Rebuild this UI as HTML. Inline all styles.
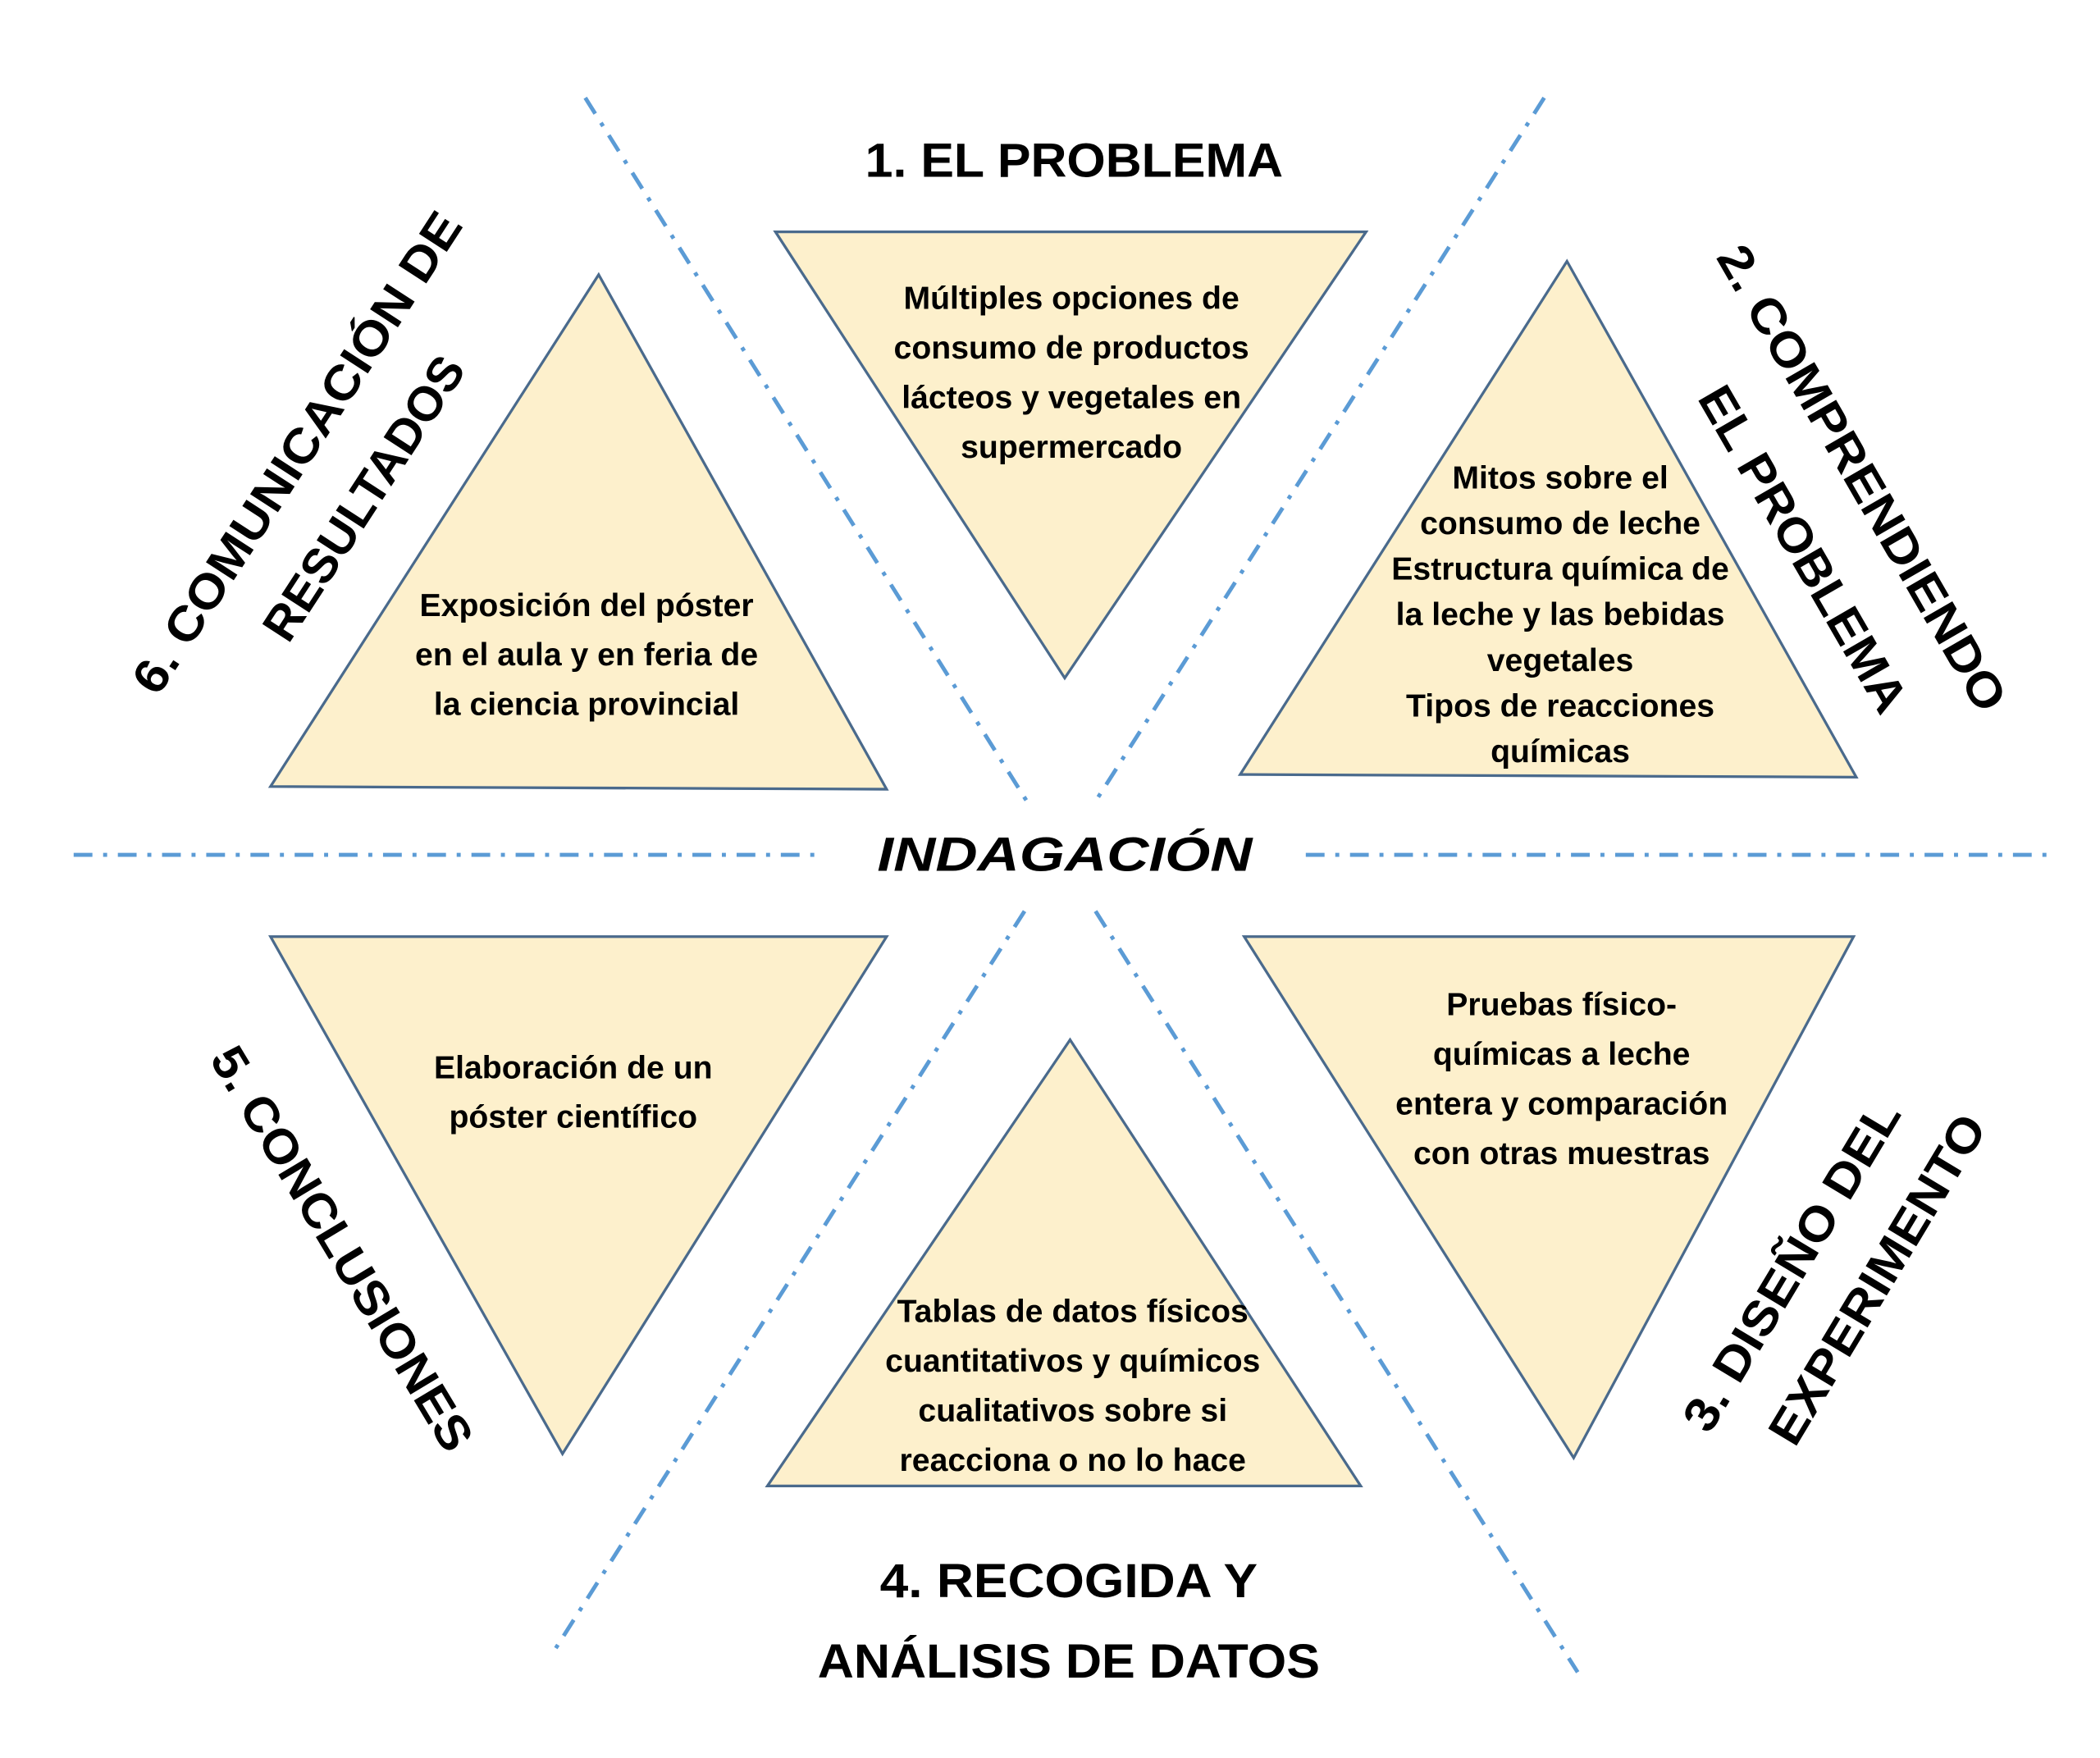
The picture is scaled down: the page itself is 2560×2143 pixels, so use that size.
<!DOCTYPE html>
<html><head><meta charset="utf-8"><style>
html,body{margin:0;padding:0;background:#fff;}
svg{display:block;}
text{font-family:"Liberation Sans",sans-serif;font-weight:bold;fill:#000;}
.t{font-size:24px;text-anchor:middle;dominant-baseline:central;}
.h{font-size:36px;text-anchor:middle;dominant-baseline:central;}
</style></head><body>
<svg width="2560" height="2143" viewBox="0 0 1568 1312" preserveAspectRatio="none" xmlns="http://www.w3.org/2000/svg">
<g stroke="#5b9bd5" stroke-width="3" stroke-dasharray="14 8 3 8" fill="none">
<line x1="55" y1="638" x2="612" y2="638"/>
<line x1="975" y1="638" x2="1530" y2="638"/>
<line x1="437" y1="73" x2="768" y2="600"/>
<line x1="1153" y1="73" x2="818" y2="598"/>
<line x1="765" y1="680" x2="415" y2="1230"/>
<line x1="818" y1="680" x2="1178" y2="1248"/>
</g>
<g fill="#fdf0cc" stroke="#4a6a8c" stroke-width="2">
<polygon points="579,173 1020,173 795,506"/>
<polygon points="1170,195 1386,580 926,578"/>
<polygon points="447,205 662,589 202,587"/>
<polygon points="202,699 662,699 420,1085"/>
<polygon points="799,776 1016,1109 573,1109"/>
<polygon points="929,699 1384,699 1175,1088"/>
</g>
<text class="t" x="800" y="223">Múltiples opciones de</text>
<text class="t" x="800" y="260">consumo de productos</text>
<text class="t" x="800" y="297">lácteos y vegetales en</text>
<text class="t" x="800" y="334">supermercado</text>

<text class="t" x="1165" y="357">Mitos sobre el</text>
<text class="t" x="1165" y="391">consumo de leche</text>
<text class="t" x="1165" y="425">Estructura química de</text>
<text class="t" x="1165" y="459">la leche y las bebidas</text>
<text class="t" x="1165" y="493">vegetales</text>
<text class="t" x="1165" y="527">Tipos de reacciones</text>
<text class="t" x="1165" y="561">químicas</text>

<text class="t" x="438" y="452">Exposición del póster</text>
<text class="t" x="438" y="489">en el aula y en feria de</text>
<text class="t" x="438" y="526">la ciencia provincial</text>

<text class="t" x="428" y="797">Elaboración de un</text>
<text class="t" x="428" y="834">póster científico</text>

<text class="t" x="801" y="979">Tablas de datos físicos</text>
<text class="t" x="801" y="1016">cuantitativos y químicos</text>
<text class="t" x="801" y="1053">cualitativos sobre si</text>
<text class="t" x="801" y="1090">reacciona o no lo hace</text>

<text class="t" x="1166" y="750">Pruebas físico-</text>
<text class="t" x="1166" y="787">químicas a leche</text>
<text class="t" x="1166" y="824">entera y comparación</text>
<text class="t" x="1166" y="861">con otras muestras</text>

<text class="h" x="802" y="120" textLength="312" lengthAdjust="spacingAndGlyphs">1. EL PROBLEMA</text>
<text class="h" x="795" y="638" font-size="42" font-style="italic" textLength="280" lengthAdjust="spacingAndGlyphs">INDAGACIÓN</text>
<text class="h" x="798" y="1180" textLength="282" lengthAdjust="spacingAndGlyphs">4. RECOGIDA Y</text>
<text class="h" x="798" y="1240" textLength="375" lengthAdjust="spacingAndGlyphs">ANÁLISIS DE DATOS</text>

<text class="h" transform="translate(222,338) rotate(-57)" textLength="420" lengthAdjust="spacingAndGlyphs">6. COMUNICACIÓN DE</text>
<text class="h" transform="translate(272,372) rotate(-57)" textLength="245" lengthAdjust="spacingAndGlyphs">RESULTADOS</text>

<text class="h" transform="translate(1390,357) rotate(60)" textLength="395" lengthAdjust="spacingAndGlyphs">2. COMPRENDIENDO</text>
<text class="h" transform="translate(1346,410) rotate(60)" textLength="275" lengthAdjust="spacingAndGlyphs">EL PROBLEMA</text>

<text class="h" transform="translate(255,932) rotate(59)" textLength="345" lengthAdjust="spacingAndGlyphs">5. CONCLUSIONES</text>

<text class="h" transform="translate(1338,945) rotate(-59)" textLength="280" lengthAdjust="spacingAndGlyphs">3. DISEÑO DEL</text>
<text class="h" transform="translate(1402,955) rotate(-59)" textLength="280" lengthAdjust="spacingAndGlyphs">EXPERIMENTO</text>
</svg>
</body></html>
